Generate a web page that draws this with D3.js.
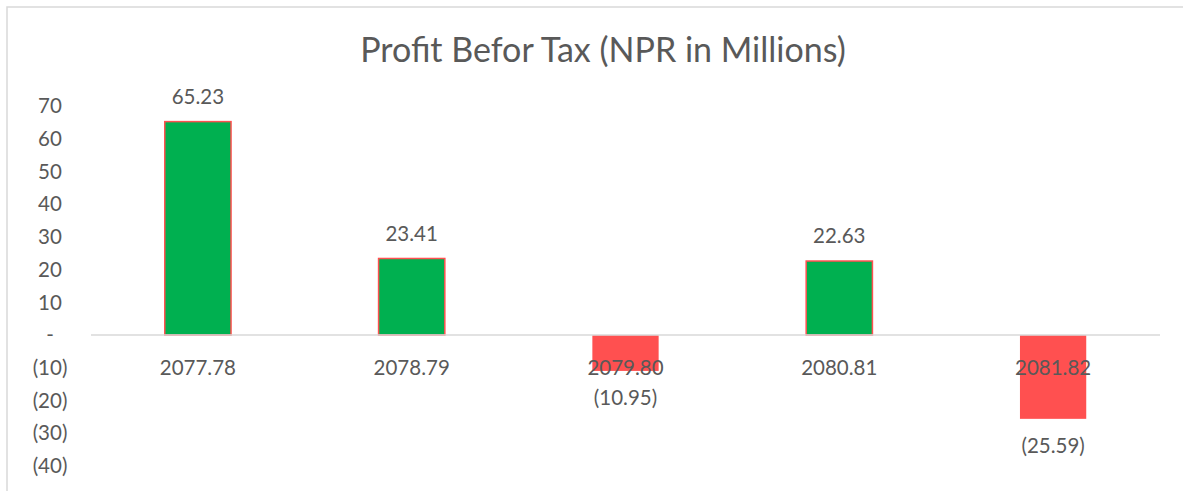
<!DOCTYPE html>
<html>
<head>
<meta charset="utf-8">
<script src="https://cdn.jsdelivr.net/npm/d3@7"></script>
<style>
  body { margin: 0; background: #fff; }
  text { font-family: Lato, "Open Sans", sans-serif; fill: #595959; }
</style>
</head>
<body>
<div id="chart"></div>
<script>
// chart data
const years = ["2077.78", "2078.79", "2079.80", "2080.81", "2081.82"];
const profit = [65.23, 23.41, -10.95, 22.63, -25.59];
const yTicks = [70, 60, 50, 40, 30, 20, 10, 0, -10, -20, -30, -40];
const title = "Profit Befor Tax (NPR in Millions)";

const W = 1183, H = 491;
const margin = {top: 106, right: 23, bottom: 25, left: 91},
  width = W - margin.left - margin.right,
  height = H - margin.top - margin.bottom;

// number format like excel accounting: negatives in brackets, zero as dash
const fmtTick = d => d === 0 ? "-" : (d < 0 ? "(" + Math.abs(d) + ")" : d);
const fmtVal = d => d < 0 ? "(" + Math.abs(d).toFixed(2) + ")" : d.toFixed(2);

const svg = d3.select("#chart")
  .append("svg")
  .attr("width", W)
  .attr("height", H);

// outer chart border (runs off the right/bottom edge)
svg.append("rect")
  .attr("x", 7).attr("y", 7)
  .attr("width", W + 20).attr("height", H + 20)
  .attr("fill", "none")
  .attr("stroke", "#d9d9d9")
  .attr("stroke-width", 1.5);

svg.append("text")
  .attr("x", 603)
  .attr("y", 62)
  .attr("text-anchor", "middle")
  .style("font-size", "34px")
  .text(title);

const g = svg.append("g")
  .attr("transform", "translate(" + margin.left + "," + margin.top + ")");

const x = d3.scaleBand()
  .domain(years)
  .range([0, width])
  .paddingInner(0.69)
  .paddingOuter(0.345);

const y = d3.scaleLinear()
  .domain([70, -40])
  .range([0, 360]);

// y axis labels (no line, no ticks)
g.selectAll(".ytick")
  .data(yTicks)
  .enter().append("text")
  .attr("class", "ytick")
  .attr("x", -41)
  .attr("y", d => y(d))
  .attr("dy", "0.35em")
  .attr("text-anchor", "middle")
  .style("font-size", "20.5px")
  .text(fmtTick);

// bars
g.selectAll(".bar")
  .data(profit)
  .enter().append("rect")
  .attr("class", "bar")
  .attr("x", (d, i) => x(years[i]))
  .attr("width", x.bandwidth())
  .attr("y", d => y(Math.max(0, d)))
  .attr("height", d => Math.abs(y(d) - y(0)))
  .attr("fill", d => d >= 0 ? "#00b050" : "#ff5050")
  .attr("stroke", "#ff5050")
  .attr("stroke-width", d => d >= 0 ? 1.5 : 0);

// zero line
g.append("line")
  .attr("x1", 0).attr("x2", width)
  .attr("y1", y(0)).attr("y2", y(0))
  .attr("stroke", "#d9d9d9")
  .attr("stroke-width", 1.5);

// category labels sit just under the zero line
g.selectAll(".xlab")
  .data(years)
  .enter().append("text")
  .attr("class", "xlab")
  .attr("x", d => x(d) + x.bandwidth() / 2)
  .attr("y", y(0) + 33)
  .attr("dy", "0.35em")
  .attr("text-anchor", "middle")
  .style("font-size", "20.5px")
  .text(d => d);

// value labels
g.selectAll(".vlab")
  .data(profit)
  .enter().append("text")
  .attr("class", "vlab")
  .attr("x", (d, i) => x(years[i]) + x.bandwidth() / 2)
  .attr("y", d => d >= 0 ? y(d) - 25 : y(d) + 27)
  .attr("dy", "0.35em")
  .attr("text-anchor", "middle")
  .style("font-size", "20.5px")
  .text(fmtVal);
</script>
</body>
</html>
